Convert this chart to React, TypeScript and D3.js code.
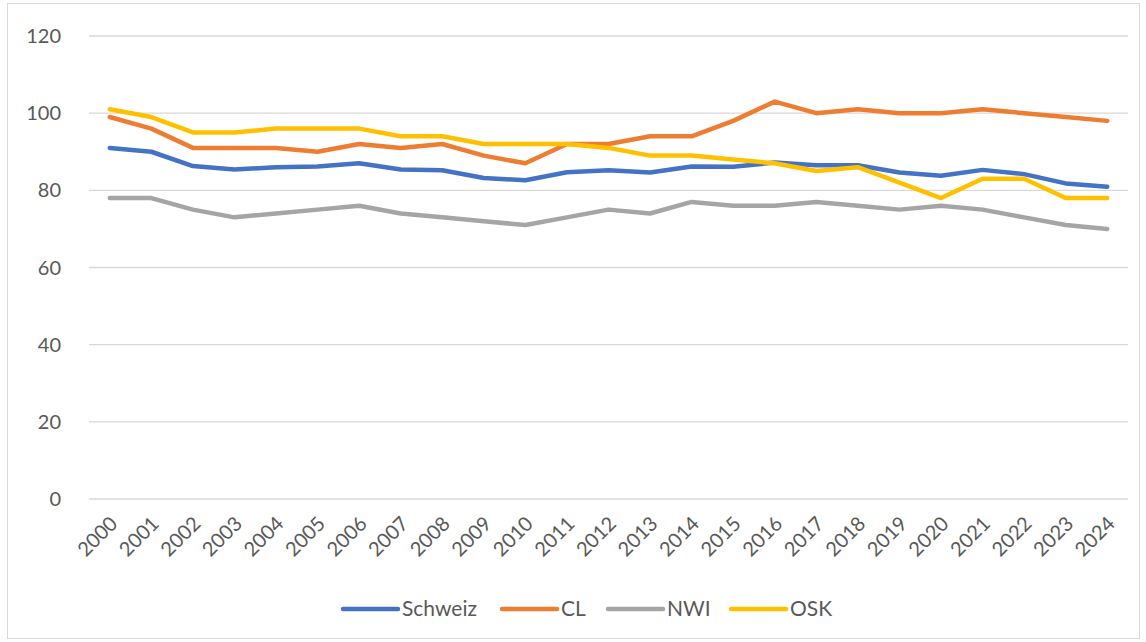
import React, { useEffect, useRef } from 'react';
import * as d3 from 'd3';

const years = [
  '2000', '2001', '2002', '2003', '2004', '2005', '2006', '2007', '2008', '2009',
  '2010', '2011', '2012', '2013', '2014', '2015', '2016', '2017', '2018', '2019',
  '2020', '2021', '2022', '2023', '2024',
];

const schweiz = [91, 90, 86.3, 85.4, 86, 86.2, 87, 85.4, 85.2, 83.2, 82.6, 84.7, 85.2, 84.6, 86.2, 86.1, 87.2, 86.5, 86.5, 84.6, 83.8, 85.3, 84.2, 81.8, 80.9];
const cl = [99, 96, 91, 91, 91, 90, 92, 91, 92, 89, 87, 92, 92, 94, 94, 98, 103, 100, 101, 100, 100, 101, 100, 99, 98];
const nwi = [78, 78, 75, 73, 74, 75, 76, 74, 73, 72, 71, 73, 75, 74, 77, 76, 76, 77, 76, 75, 76, 75, 73, 71, 70];
const osk = [101, 99, 95, 95, 96, 96, 96, 94, 94, 92, 92, 92, 91, 89, 89, 88, 87, 85, 86, 82, 78, 83, 83, 78, 78];

const yTicks = [0, 20, 40, 60, 80, 100, 120];

const seriesNames = ['Schweiz', 'CL', 'NWI', 'OSK'];
const seriesColors = ['#4472C4', '#ED7D31', '#A5A5A5', '#FFC000'];

const App: React.FC = () => {
  const svgRef = useRef<SVGSVGElement>(null);

  useEffect(() => {
    if (!svgRef.current) return;
    const svg = d3.select(svgRef.current);
    svg.selectAll('*').remove();

    const width = 1146;
    const height = 642;
    const font = 'Lato, "Open Sans", sans-serif';
    const textColor = '#595959';

    // chart frame
    svg.append('rect')
      .attr('x', 7.5).attr('y', 3.5)
      .attr('width', width - 14).attr('height', height - 7)
      .attr('fill', '#fff')
      .attr('stroke', '#D9D9D9')
      .attr('stroke-width', 1);

    const x = d3.scaleBand<string>()
      .domain(years)
      .range([89, 1128]);

    const y = d3.scaleLinear()
      .domain([0, 120])
      .range([499, 36]);

    // grid
    svg.append('g')
      .selectAll('line')
      .data(yTicks)
      .enter()
      .append('line')
      .attr('x1', 89).attr('x2', 1128)
      .attr('y1', d => y(d)).attr('y2', d => y(d))
      .attr('stroke', '#D9D9D9')
      .attr('stroke-width', 1.3);

    // y labels
    svg.append('g')
      .selectAll('text')
      .data(yTicks)
      .enter()
      .append('text')
      .attr('x', 61)
      .attr('y', d => y(d))
      .attr('dy', '0.35em')
      .attr('text-anchor', 'end')
      .attr('font-family', font)
      .attr('font-size', 20)
      .attr('fill', textColor)
      .text(d => d);

    // x labels
    const bw = x.bandwidth();
    svg.append('g')
      .selectAll('text')
      .data(years)
      .enter()
      .append('text')
      .attr('transform', d => `translate(${(x(d) || 0) + bw / 2 + 4},${520}) rotate(-45)`)
      .attr('text-anchor', 'end')
      .attr('dy', '0.35em')
      .attr('font-family', font)
      .attr('font-size', 20)
      .attr('fill', textColor)
      .text(d => d);

    const allSeries = [schweiz, cl, nwi, osk];

    const line = d3.line<number>()
      .x((_, i) => (x(years[i]) || 0) + bw / 2)
      .y(d => y(d));

    allSeries.forEach((s, i) => {
      svg.append('path')
        .datum(s)
        .attr('fill', 'none')
        .attr('stroke', seriesColors[i])
        .attr('stroke-width', 4.5)
        .attr('stroke-linejoin', 'round')
        .attr('stroke-linecap', 'round')
        .attr('d', line);
    });

    // legend
    const legendX = [343, 502, 608, 731];
    const legend = svg.append('g');
    seriesNames.forEach((name, i) => {
      legend.append('line')
        .attr('x1', legendX[i]).attr('x2', legendX[i] + 55)
        .attr('y1', 609).attr('y2', 609)
        .attr('stroke', seriesColors[i])
        .attr('stroke-width', 4.5)
        .attr('stroke-linecap', 'round');
      legend.append('text')
        .attr('x', legendX[i] + 59)
        .attr('y', 609)
        .attr('dy', '0.35em')
        .attr('font-family', font)
        .attr('font-size', 21)
        .attr('fill', textColor)
        .text(name);
    });
  }, []);

  return (
    <div style={{ position: 'absolute', left: 0, top: 0, width: 1146, height: 642, background: '#fff' }}>
      <svg ref={svgRef} width={1146} height={642}></svg>
    </div>
  );
};

export default App;
